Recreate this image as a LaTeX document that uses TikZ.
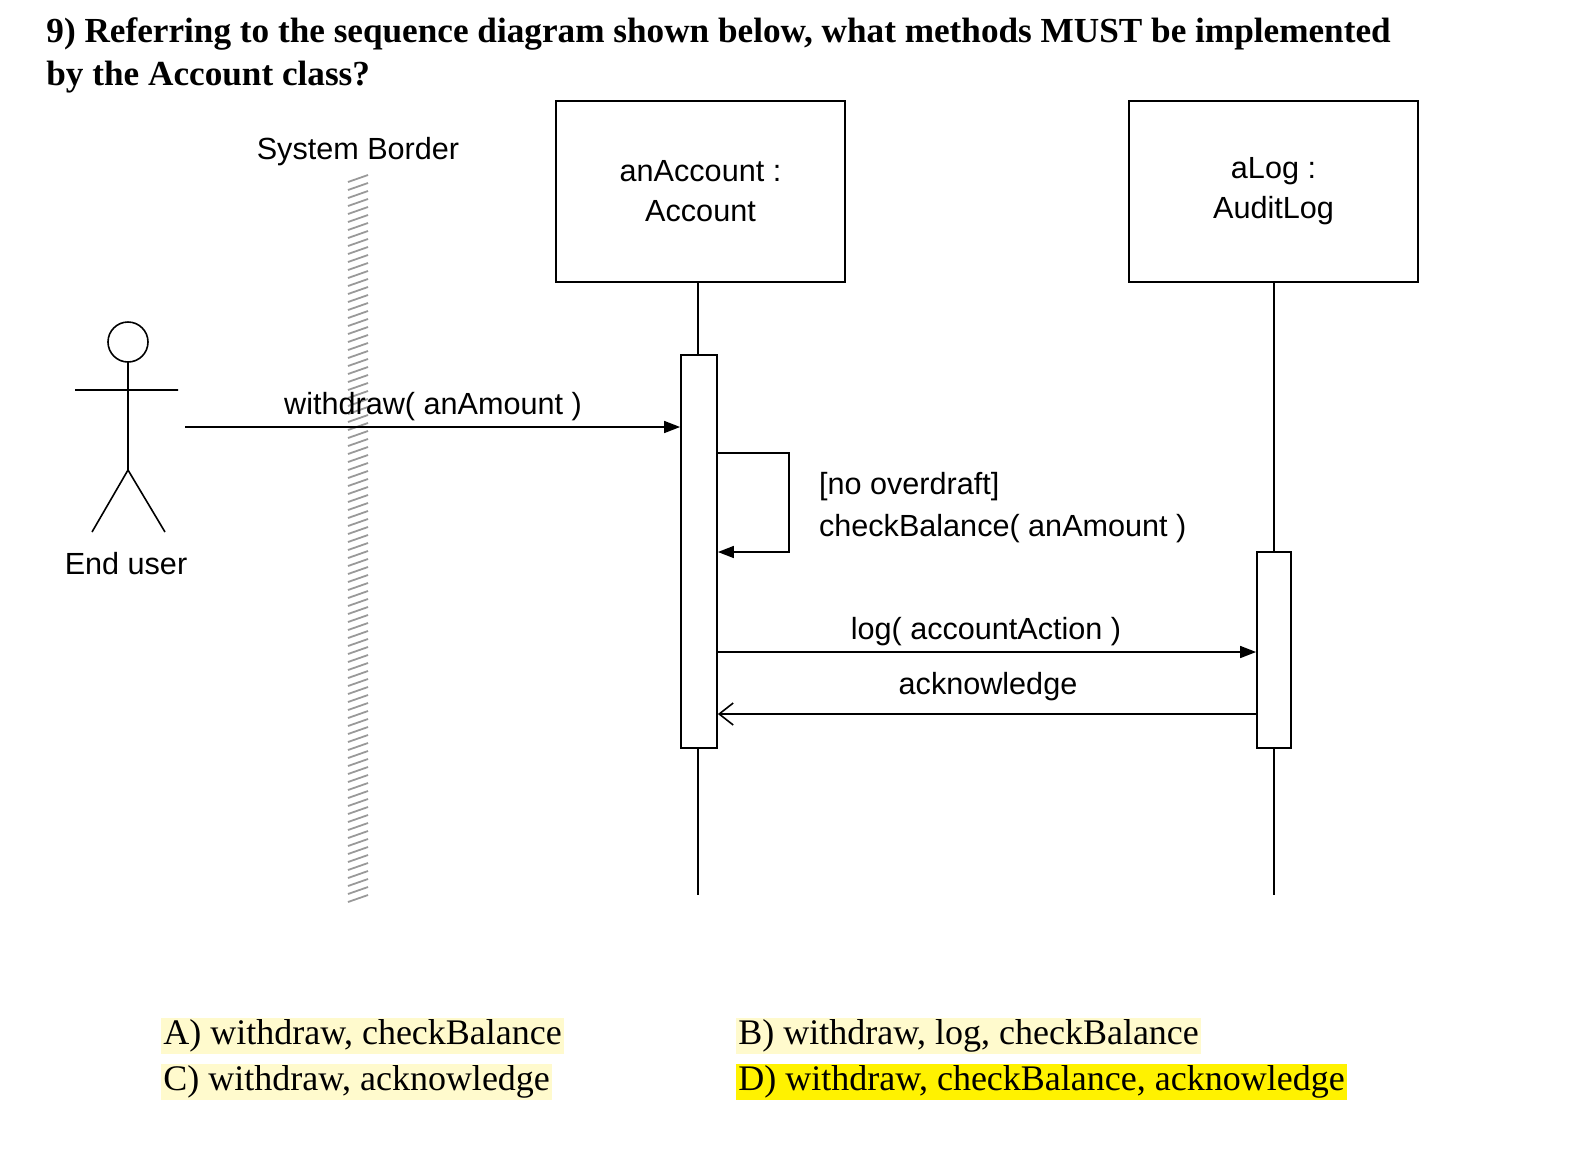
\documentclass[tikz,border=0pt]{standalone}
\usepackage{fontspec}
\setmainfont{Liberation Serif}
\newfontfamily\dsans{Liberation Sans}
\usetikzlibrary{arrows.meta}
\definecolor{pale}{RGB}{255,250,205}
\tikzset{
  dtext/.style={font=\dsans\fontsize{15.3}{18}\selectfont},
  obj/.style={draw,line width=0.9pt,fill=white},
  life/.style={line width=0.8pt},
  msg/.style={line width=0.8pt,-{Triangle[length=8pt,width=6pt]}},
  ret/.style={line width=0.8pt,-{Straight Barb[length=7pt,width=11pt]}},
  ans/.style={font=\fontsize{18}{20}\selectfont,anchor=west,inner sep=1pt,fill=pale},
  head/.style={font=\bfseries\fontsize{17.6}{20}\selectfont,anchor=west,inner sep=0pt}
}
\begin{document}
\begin{tikzpicture}[x=0.5pt,y=-0.5pt]
\useasboundingbox (0,0) rectangle (1572,1162);
\node[head] (q1) at (46,34) {9) Referring to the sequence diagram shown below, what methods MUST be implemented};
\node[head] (q2) at (46,77) {by the Account class?};
% system border
\node[dtext] (sb) at (358,152) {System Border};
\foreach \y in {175,183,...,895} \draw[gray!80,line width=0.9pt] (348,\y+7) -- (368,\y);
% objects
\draw[life] (698,282) -- (698,895);
\draw[life] (1274,282) -- (1274,895);
\node[obj,minimum width=289*0.5pt,minimum height=181*0.5pt,dtext,align=center] (acc) at (700.5,191.5) {anAccount :\\[2pt]Account};
\node[obj,minimum width=289*0.5pt,minimum height=181*0.5pt,dtext,align=center] (log) at (1273.5,191.5) {aLog :\\[2pt]AuditLog};
\node[obj,minimum width=36*0.5pt,minimum height=393*0.5pt,inner sep=0pt] (act1) at (699,551.5) {};
\node[obj,minimum width=34*0.5pt,minimum height=196*0.5pt,inner sep=0pt] (act2) at (1274,650) {};
% actor
\draw[line width=0.8pt] (128,342) circle (20);
\draw[line width=0.8pt] (75,390) -- (178,390) (128,362) -- (128,470) -- (92,532) (128,470) -- (165,532);
\node[dtext] (eu) at (126,564) {End user};
\coordinate (src) at (185,427);
% messages
\draw[msg] (src) -- (src -| act1.west) coordinate (wend);
\node[dtext] (wl) at (433,407) {withdraw( anAmount )};
\draw[msg] (act1.east |- 0,453) -- (789,453) -- (789,552) -- (act1.east |- 0,552);
\node[dtext,align=left,anchor=west] (cb) at (812,508) {[no overdraft]\\[3pt]checkBalance( anAmount )};
\draw[msg] (act1.east |- 0,652) -- (act2.west |- 0,652);
\node[dtext] (ll) at (986,632) {log( accountAction )};
\draw[ret] (act2.west |- 0,714) -- (act1.east |- 0,714);
\node[dtext] (al) at (988,687) {acknowledge};
% answers
\node[ans] (a) at (161,1036) {A) withdraw, checkBalance};
\node[ans] (b) at (736,1036) {B) withdraw, log, checkBalance};
\node[ans] (c) at (161,1082) {C) withdraw, acknowledge};
\node[ans,fill=yellow] (d) at (736,1082) {D) withdraw, checkBalance, acknowledge};
\end{tikzpicture}
\end{document}
